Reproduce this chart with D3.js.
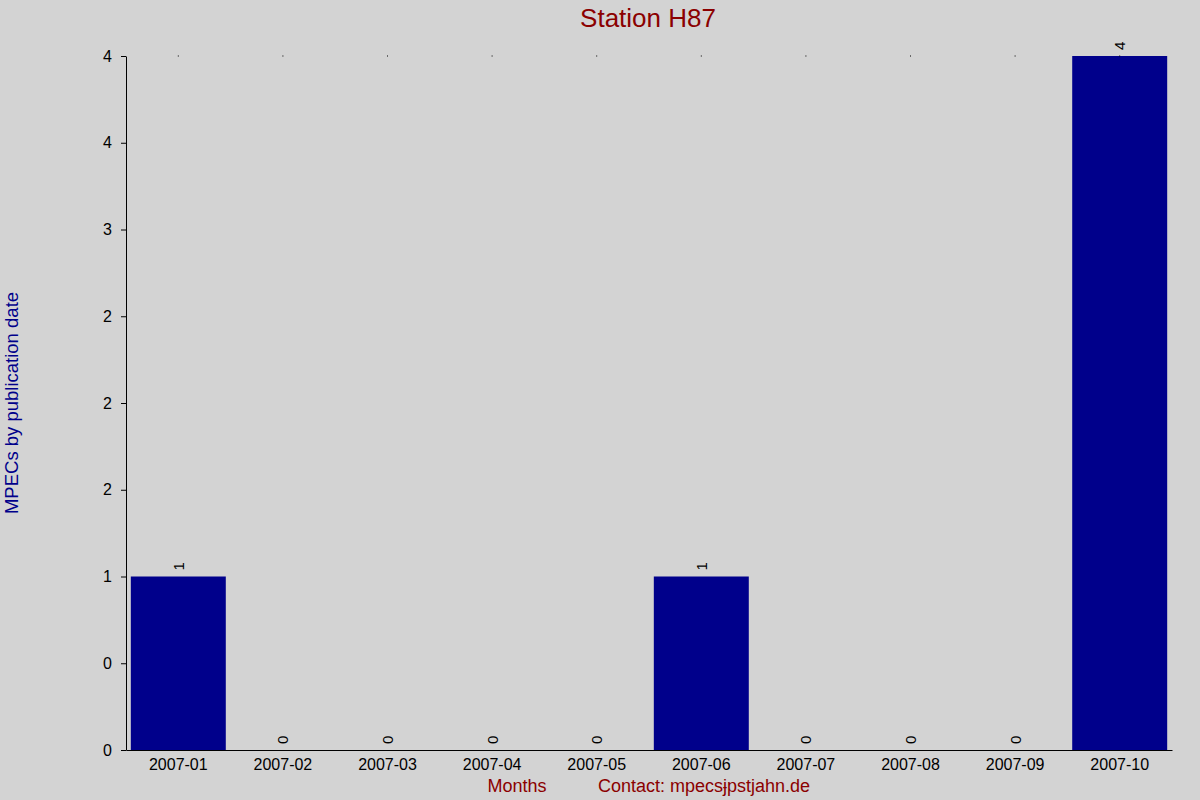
<!DOCTYPE html>
<html>
<head>
<meta charset="utf-8">
<script src="https://cdn.jsdelivr.net/npm/d3@7"></script>
<style>
  body { margin: 0; background: #d3d3d3; }
  text { font-family: "Liberation Sans", Arial, sans-serif; }
</style>
</head>
<body>
<div id="chart"></div>
<script>
const months = ["2007-01", "2007-02", "2007-03", "2007-04", "2007-05",
  "2007-06", "2007-07", "2007-08", "2007-09", "2007-10"];
const counts = [1, 0, 0, 0, 0, 1, 0, 0, 0, 4];
const yTicks = [0, 0.5, 1, 1.5, 2, 2.5, 3, 3.5, 4];
const yTickLabels = ["0", "0", "1", "2", "2", "2", "3", "4", "4"];

const width = 1200;
const height = 800;
const margin = {top: 56, right: 28, bottom: 50, left: 126};

const svg = d3.select("#chart").append("svg")
  .attr("width", width)
  .attr("height", height);

svg.append("rect")
  .attr("width", width)
  .attr("height", height)
  .attr("fill", "#d3d3d3");

const x = d3.scaleBand()
  .domain(months)
  .range([margin.left, width - margin.right])
  .paddingInner(0.092)
  .paddingOuter(0.046);

const y = d3.scaleLinear()
  .domain([0, 4])
  .range([height - margin.bottom, margin.top]);

// bars
svg.append("g")
  .selectAll("rect")
  .data(months)
  .enter()
  .append("rect")
    .attr("x", d => x(d))
    .attr("y", (d, i) => y(counts[i]))
    .attr("width", x.bandwidth())
    .attr("height", (d, i) => y(0) - y(counts[i]))
    .attr("fill", "#00008b");

// value labels, rotated
svg.append("g")
  .selectAll("text")
  .data(months)
  .enter()
  .append("text")
    .text((d, i) => counts[i])
    .attr("transform", (d, i) =>
      `translate(${x(d) + x.bandwidth() / 2},${y(counts[i]) - 6}) rotate(-90)`)
    .attr("dominant-baseline", "central")
    .style("text-anchor", "start")
    .style("font-size", "15px")
    .attr("fill", "black");

// little top dots
svg.append("g")
  .selectAll("rect")
  .data(months)
  .enter()
  .append("rect")
    .attr("x", d => x(d) + x.bandwidth() / 2 - 0.5)
    .attr("y", y(4) - 0.5)
    .attr("width", 1)
    .attr("height", 1)
    .attr("fill", "black");

// y axis
const yAxis = d3.axisLeft(y)
  .tickValues(yTicks)
  .tickFormat((d, i) => yTickLabels[i])
  .tickSize(5)
  .tickSizeOuter(0);

const gy = svg.append("g")
  .attr("transform", `translate(${margin.left},0)`)
  .call(yAxis);
gy.select(".domain").attr("stroke", "black");
gy.selectAll("text")
  .style("font-size", "16px")
  .attr("x", -14)
  .attr("fill", "black");

// x axis
const xAxis = d3.axisBottom(x).tickSize(0).tickSizeOuter(0);
const gx = svg.append("g")
  .attr("transform", `translate(0,${height - margin.bottom})`)
  .call(xAxis);
gx.select(".domain").attr("stroke", "black");
gx.selectAll("text")
  .style("font-size", "16px")
  .attr("y", 9)
  .attr("fill", "black");

// titles
svg.append("text")
  .text("Station H87")
  .attr("x", 648)
  .attr("y", 27)
  .style("text-anchor", "middle")
  .style("font-size", "26px")
  .attr("fill", "#8b0000");

svg.append("text")
  .text("MPECs by publication date")
  .attr("transform", "translate(18,403) rotate(-90)")
  .style("text-anchor", "middle")
  .style("font-size", "18.5px")
  .attr("fill", "#00008b");

svg.append("text")
  .text("Months")
  .attr("x", 517)
  .attr("y", 792)
  .style("text-anchor", "middle")
  .style("font-size", "18px")
  .attr("fill", "#8b0000");

svg.append("text")
  .text("Contact: mpecs\u0249pstjahn.de")
  .attr("x", 704)
  .attr("y", 792)
  .style("text-anchor", "middle")
  .style("font-size", "18px")
  .attr("fill", "#8b0000");
</script>
</body>
</html>
